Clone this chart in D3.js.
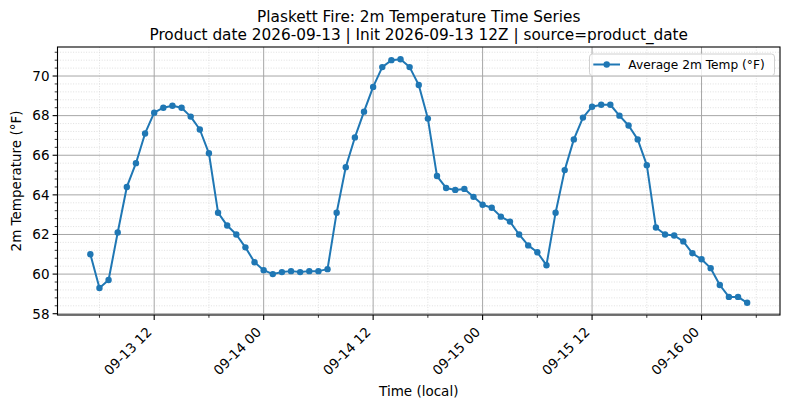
<!DOCTYPE html>
<html><head><meta charset="utf-8">
<script src="https://cdn.jsdelivr.net/npm/d3@7"></script>
<style>
html,body{margin:0;padding:0;background:#fff;}
svg{display:block;font-family:"DejaVu Sans",sans-serif;}
</style></head>
<body><svg id="c" width="790" height="409"></svg>
<script>
// ---- data ----
const startTime = Date.UTC(2026, 8, 13, 5); // 2026-09-13 05:00 local, hourly
const tempF = [
  61.0, 59.3, 59.7, 62.1, 64.4, 65.6, 67.1, 68.15, 68.4, 68.5, 68.4, 67.95,
  67.3, 66.1, 63.1, 62.45, 62.0, 61.35, 60.6, 60.2, 60.0, 60.1, 60.15, 60.1,
  60.15, 60.15, 60.25, 63.1, 65.4, 66.9, 68.2, 69.45, 70.45, 70.8, 70.85, 70.45,
  69.55, 67.85, 64.95, 64.35, 64.25, 64.3, 63.9, 63.5, 63.35, 62.9, 62.65, 62.0,
  61.45, 61.1, 60.45, 63.1, 65.25, 66.8, 67.9, 68.45, 68.55, 68.55, 68.0, 67.5,
  66.8, 65.5, 62.35, 62.0, 61.95, 61.65, 61.05, 60.75, 60.3, 59.45, 58.85, 58.85,
  58.55
];
const yTicks = [58, 60, 62, 64, 66, 68, 70];
const titleLines = ["Plaskett Fire: 2m Temperature Time Series",
  "Product date 2026-09-13 | Init 2026-09-13 12Z | source=product_date"];
const seriesName = "Average 2m Temp (°F)";
const xLabel = "Time (local)";
const yLabel = "2m Temperature (°F)";

const HOUR = 3600e3;
const data = tempF.map((v, i) => ({t: new Date(startTime + i * HOUR), v}));

// ---- layout ----
const L = 57.5, R = 780, T = 47, B = 315;
const svg = d3.select("#c");
const blue = "#1f77b4";

const tExt = d3.extent(data, d => d.t);
const tPad = (tExt[1] - tExt[0]) * 0.05;
const x = d3.scaleUtc().domain([new Date(+tExt[0] - tPad), new Date(+tExt[1] + tPad)]).range([L, R]);
const vExt = d3.extent(data, d => d.v);
const vPad = (vExt[1] - vExt[0]) * 0.05;
const y = d3.scaleLinear().domain([vExt[0] - vPad, vExt[1] + vPad]).range([B, T]);

const majorX = d3.utcHour.every(12).range(x.domain()[0], x.domain()[1]);
const minorX = d3.utcHour.every(6).range(x.domain()[0], x.domain()[1]).filter(d => d.getUTCHours() % 12 !== 0);
const minorY = d3.range(58, 71.5, 0.4).filter(v => v < y.domain()[1] && Math.abs(v / 2 - Math.round(v / 2)) > 1e-6);
const fmt = d3.utcFormat("%m-%d %H");

const g = svg.append("g");
// minor grid
g.selectAll(".mgy").data(minorY).join("line")
  .attr("x1", L).attr("x2", R).attr("y1", d => y(d)).attr("y2", d => y(d))
  .attr("stroke", "#d8d8d8").attr("stroke-width", 0.8).attr("stroke-dasharray", "1,1.6");
g.selectAll(".mgx").data(minorX).join("line")
  .attr("y1", T).attr("y2", B).attr("x1", d => x(d)).attr("x2", d => x(d))
  .attr("stroke", "#d8d8d8").attr("stroke-width", 0.8).attr("stroke-dasharray", "1,1.6");
// major grid
g.selectAll(".gy").data(yTicks).join("line")
  .attr("x1", L).attr("x2", R).attr("y1", d => y(d)).attr("y2", d => y(d))
  .attr("stroke", "#a6a6a6").attr("stroke-width", 1);
g.selectAll(".gx").data(majorX).join("line")
  .attr("y1", T).attr("y2", B).attr("x1", d => x(d)).attr("x2", d => x(d))
  .attr("stroke", "#a6a6a6").attr("stroke-width", 1);

// line + markers
const line = d3.line().x(d => x(d.t)).y(d => y(d.v));
svg.append("path").datum(data).attr("d", line)
  .attr("fill", "none").attr("stroke", blue).attr("stroke-width", 2).attr("stroke-linejoin", "round");
svg.selectAll(".pt").data(data).join("circle")
  .attr("cx", d => x(d.t)).attr("cy", d => y(d.v)).attr("r", 3.2).attr("fill", blue);

// axes frame
svg.append("rect").attr("x", L).attr("y", T).attr("width", R - L).attr("height", B - T)
  .attr("fill", "none").attr("stroke", "#000").attr("stroke-width", 1.1);

// y ticks
svg.selectAll(".ytk").data(yTicks).join("line")
  .attr("x1", L).attr("x2", L - 4.9).attr("y1", d => y(d)).attr("y2", d => y(d))
  .attr("stroke", "#000").attr("stroke-width", 1.1);
svg.selectAll(".ymtk").data(minorY).join("line")
  .attr("x1", L).attr("x2", L - 2.8).attr("y1", d => y(d)).attr("y2", d => y(d))
  .attr("stroke", "#000").attr("stroke-width", 0.8);
svg.selectAll(".ylab").data(yTicks).join("text")
  .attr("x", L - 8).attr("y", d => y(d)).attr("dy", "0.36em")
  .attr("text-anchor", "end").attr("font-size", 13.5).attr("fill", "#000").text(d => d);

// x ticks
svg.selectAll(".xtk").data(majorX).join("line")
  .attr("y1", B).attr("y2", B + 4.9).attr("x1", d => x(d)).attr("x2", d => x(d))
  .attr("stroke", "#000").attr("stroke-width", 1.1);
svg.selectAll(".xmtk").data(minorX).join("line")
  .attr("y1", B).attr("y2", B + 2.8).attr("x1", d => x(d)).attr("x2", d => x(d))
  .attr("stroke", "#000").attr("stroke-width", 0.8);
svg.selectAll(".xlab").data(majorX).join("text")
  .attr("transform", d => `translate(${x(d) - 1.5},${B + 18}) rotate(-45)`)
  .attr("text-anchor", "end").attr("font-size", 13.5).attr("fill", "#000").text(d => fmt(d));

// axis labels
svg.append("text").attr("x", (L + R) / 2).attr("y", 396).attr("text-anchor", "middle")
  .attr("font-size", 13.5).text(xLabel);
svg.append("text").attr("transform", `translate(20.5,${(T + B) / 2}) rotate(-90)`)
  .attr("text-anchor", "middle").attr("font-size", 13.5).text(yLabel);

// title
svg.selectAll(".title").data(titleLines).join("text")
  .attr("x", (L + R) / 2).attr("y", (d, i) => 22 + i * 18).attr("text-anchor", "middle")
  .attr("font-size", 15.3).text(d => d);

// legend
const lg = svg.append("g");
lg.append("rect").attr("x", 589.5).attr("y", 54).attr("width", 185).attr("height", 21.7)
  .attr("rx", 3).attr("fill", "#fff").attr("fill-opacity", 0.8).attr("stroke", "#d0d0d0").attr("stroke-width", 1);
lg.append("line").attr("x1", 593.3).attr("x2", 620).attr("y1", 64.5).attr("y2", 64.5)
  .attr("stroke", blue).attr("stroke-width", 2);
lg.append("circle").attr("cx", 606.7).attr("cy", 64.5).attr("r", 3.2).attr("fill", blue);
lg.append("text").attr("x", 628.3).attr("y", 64.5).attr("dy", "0.36em")
  .attr("font-size", 12.2).text(seriesName);
</script></body></html>
